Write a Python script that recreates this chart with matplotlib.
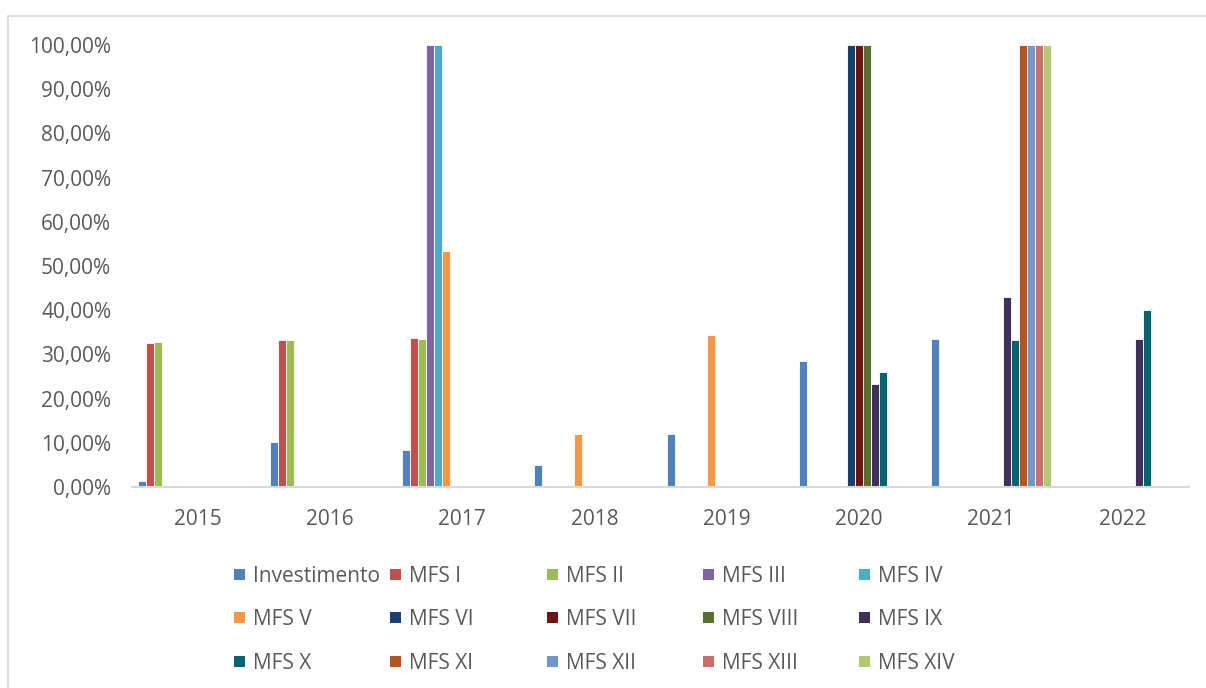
import matplotlib
matplotlib.use("Agg")
import matplotlib.pyplot as plt
from matplotlib.patches import Rectangle
import numpy as np

years = ["2015", "2016", "2017", "2018", "2019", "2020", "2021", "2022"]
series_names = ["Investimento", "MFS I", "MFS II", "MFS III", "MFS IV",
                "MFS V", "MFS VI", "MFS VII", "MFS VIII", "MFS IX",
                "MFS X", "MFS XI", "MFS XII", "MFS XIII", "MFS XIV"]
investimento = [1.3, 10.2, 8.4, 5.0, 12.0, 28.6, 33.4, 0]
mfs_i    = [32.6, 33.3, 33.8, 0, 0, 0, 0, 0]
mfs_ii   = [32.9, 33.3, 33.5, 0, 0, 0, 0, 0]
mfs_iii  = [0, 0, 100, 0, 0, 0, 0, 0]
mfs_iv   = [0, 0, 100, 0, 0, 0, 0, 0]
mfs_v    = [0, 0, 53.4, 12.0, 34.4, 0, 0, 0]
mfs_vi   = [0, 0, 0, 0, 0, 100, 0, 0]
mfs_vii  = [0, 0, 0, 0, 0, 100, 0, 0]
mfs_viii = [0, 0, 0, 0, 0, 100, 0, 0]
mfs_ix   = [0, 0, 0, 0, 0, 23.3, 43.0, 33.5]
mfs_x    = [0, 0, 0, 0, 0, 26.1, 33.3, 40.1]
mfs_xi   = [0, 0, 0, 0, 0, 0, 100, 0]
mfs_xii  = [0, 0, 0, 0, 0, 0, 100, 0]
mfs_xiii = [0, 0, 0, 0, 0, 0, 100, 0]
mfs_xiv  = [0, 0, 0, 0, 0, 0, 100, 0]
values = [investimento, mfs_i, mfs_ii, mfs_iii, mfs_iv, mfs_v, mfs_vi, mfs_vii,
          mfs_viii, mfs_ix, mfs_x, mfs_xi, mfs_xii, mfs_xiii, mfs_xiv]
colors = ["#4F81BD", "#C0504D", "#9BBB59", "#8064A2", "#4BACC6",
          "#F79646", "#17406D", "#701313", "#586F30", "#403059",
          "#05646F", "#B5541F", "#6E98CB", "#CC6D6B", "#B0C973"]
ytick_vals = [0, 10, 20, 30, 40, 50, 60, 70, 80, 90, 100]
ytick_labels = ["0,00%", "10,00%", "20,00%", "30,00%", "40,00%", "50,00%",
                "60,00%", "70,00%", "80,00%", "90,00%", "100,00%"]

FONT = ["Open Sans", "DejaVu Sans"]
W, H = 1206, 688
fig = plt.figure(figsize=(W / 100, H / 100), dpi=100)
fig.patch.set_facecolor("white")

# outer chart border
fig.add_artist(Rectangle((8 / W, -0.05), 1.2, 1 - 16 / H + 0.05,
                         transform=fig.transFigure, fill=False,
                         edgecolor="#D9D9D9", linewidth=1.2))

ax = fig.add_axes([132 / W, (H - 487) / H, 1057 / W, 442 / H])
n = len(series_names)
bw = 1.0 / (n + 1.5)
x = np.arange(len(years))
for i, (vals, col) in enumerate(zip(values, colors)):
    v = np.array(vals, dtype=float)
    ax.bar(x + (i - (n - 1) / 2) * bw, v, width=bw, color=col,
           edgecolor="white", linewidth=0.6, zorder=1)

ax.set_xlim(-0.5, len(years) - 0.5)
ax.set_ylim(0, 100)
ax.set_xticks(x)
ax.set_xticklabels(years)
ax.set_yticks(ytick_vals)
ax.set_yticklabels(ytick_labels)
for s in ["top", "right", "left"]:
    ax.spines[s].set_visible(False)
ax.spines["bottom"].set_color("#D9D9D9")
ax.spines["bottom"].set_linewidth(1.5)
ax.spines["bottom"].set_zorder(3)
ax.tick_params(axis="both", length=0, labelcolor="#595959", labelsize=15)
ax.tick_params(axis="y", pad=15)
ax.tick_params(axis="x", pad=16)
for lab in ax.get_xticklabels() + ax.get_yticklabels():
    lab.set_family(FONT)

# legend (3 rows x 5 columns)
row_y = [574, 617, 661]
for i, (name, col) in enumerate(zip(series_names, colors)):
    r, c = divmod(i, 5)
    px = 234 + c * 156.3
    py = row_y[r]
    fig.add_artist(Rectangle((px / W, (H - py - 5.5) / H), 11 / W, 11 / H,
                             transform=fig.transFigure, facecolor=col,
                             edgecolor="none"))
    fig.text((px + 19) / W, (H - py) / H, name, ha="left", va="center_baseline",
             fontsize=15, color="#595959", family=FONT)

fig.savefig("out.png", dpi=100)
